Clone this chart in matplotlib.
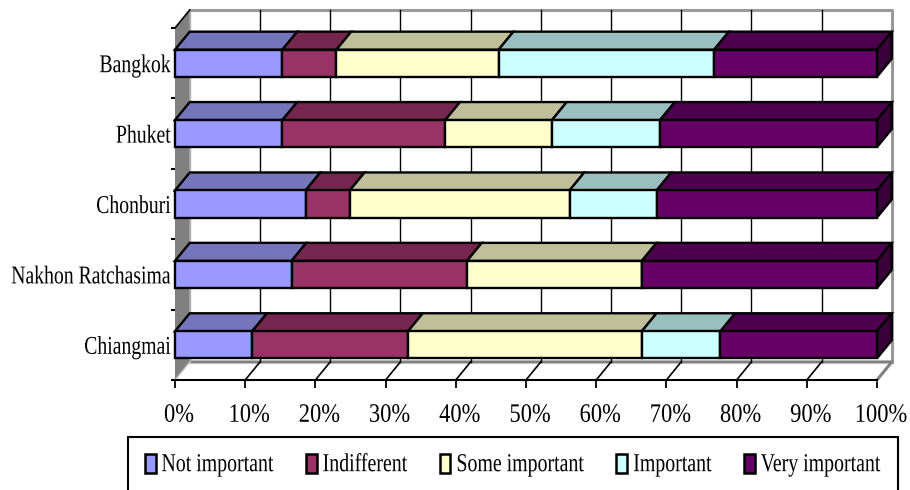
import matplotlib
matplotlib.use('Agg')
import matplotlib.pyplot as plt
from matplotlib.patches import Polygon, Patch
from matplotlib.patheffects import AbstractPathEffect
from matplotlib.transforms import Affine2D
import numpy as np

plt.rcParams['font.family'] = ['Liberation Serif', 'DejaVu Serif']

cities = ['Chiangmai', 'Nakhon Ratchasima', 'Chonburi', 'Phuket', 'Bangkok']
not_important = [11.0, 16.6, 18.6, 15.3, 15.3]
indifferent = [22.2, 25.0, 6.3, 23.2, 7.7]
some_important = [33.3, 24.9, 31.3, 15.2, 23.1]
important = [11.2, 0.0, 12.4, 15.4, 30.7]
very_important = [22.3, 33.5, 31.4, 30.9, 23.2]

names = ['Not important', 'Indifferent', 'Some important', 'Important', 'Very important']
front_cols = ['#9999ff', '#993366', '#ffffcc', '#ccffff', '#660066']
top_cols = ['#7575bb', '#75264e', '#bfbf99', '#9abfbf', '#4d004d']
side_col = '#39003a'
wall_col = '#808080'

# depth of the fake 3d box, in data units
dx = 2.1
dy = 0.256
bar_h = 0.384


# the text in the chart is narrow and tall, stretch the glyphs about the baseline
class Stretch(AbstractPathEffect):
    def __init__(self, sy, tx=0, ty=0):
        super().__init__()
        self.sy = sy
        self.tx = tx
        self.ty = ty

    def draw_path(self, renderer, gc, tpath, affine, rgbFace=None):
        t = Affine2D().scale(1, self.sy) + affine + Affine2D().translate(self.tx, self.ty)
        renderer.draw_path(gc, tpath, t, rgbFace)


W, H = 910, 490
fig = plt.figure(figsize=(W / 100, H / 100), dpi=100)
ax = fig.add_axes([175 / W, (H - 380) / H, 702 / W, 352 / H])
ax.set_xlim(0, 100)
ax.set_ylim(0, 5)
ax.patch.set_visible(False)

# walls and floor
ax.add_patch(Polygon([(0, 0), (dx, dy), (dx, 5 + dy), (0, 5)], closed=True, fc=wall_col, ec='none', clip_on=False, zorder=1))
ax.add_patch(Polygon([(0, 0), (dx, dy), (100 + dx, dy), (100, 0)], closed=True, fc='white', ec='none', clip_on=False, zorder=1))
ax.plot([dx, 100 + dx, 100 + dx], [5 + dy, 5 + dy, dy], color='#999999', lw=2.2, clip_on=False, zorder=2, solid_capstyle='projecting')
ax.plot([dx, 100 + dx, 100], [dy, dy, 0], color='#808080', lw=2.2, clip_on=False, zorder=2)
ax.plot([0, dx], [0, dy], color='#c0c0c0', lw=1, clip_on=False, zorder=2)
ax.plot([dx, dx], [dy, 5 + dy], color='#b0b0b0', lw=1, clip_on=False, zorder=2)
ax.plot([0, dx], [5, 5 + dy], color='black', lw=1.2, clip_on=False, zorder=2)

# grid on the back wall and the floor
for v in range(10, 100, 10):
    ax.plot([v + dx, v + dx], [dy, 5 + dy], color='black', lw=1.0, clip_on=False, zorder=2)
    ax.plot([v, v + dx], [0, dy], color='black', lw=1.2, clip_on=False, zorder=2)

series = [not_important, indifferent, some_important, important, very_important]
left = np.zeros(len(cities))
y = np.arange(len(cities)) + 0.5
for s, vals in enumerate(series):
    vals = np.array(vals)
    ax.barh(y, vals, height=bar_h, left=left, color=front_cols[s], edgecolor='black', lw=1.7, zorder=5, clip_on=False)
    for i in range(len(cities)):
        if vals[i] == 0:
            continue
        l = left[i]
        r = l + vals[i]
        t = y[i] + bar_h / 2
        ax.add_patch(Polygon([(l, t), (l + dx, t + dy), (r + dx, t + dy), (r, t)], closed=True,
                             fc=top_cols[s], ec='black', lw=1.7, clip_on=False, zorder=4, joinstyle='miter'))
    left = left + vals

# right end of every bar
for yy in y:
    b = yy - bar_h / 2
    t = yy + bar_h / 2
    ax.add_patch(Polygon([(100, b), (100 + dx, b + dy), (100 + dx, t + dy), (100, t)], closed=True,
                         fc=side_col, ec='black', lw=1.7, clip_on=False, zorder=4))

for sp in ['top', 'right', 'left']:
    ax.spines[sp].set_visible(False)
ax.spines['bottom'].set_linewidth(1.5)
ax.spines['bottom'].set_zorder(6)

ax.set_xticks(np.arange(0, 101, 10))
ax.set_xticklabels([str(v) + '%' for v in range(0, 101, 10)], fontsize=16.2)
ax.tick_params(axis='x', length=6, width=1.3, pad=14)
ax.set_yticks(np.arange(0, 6), minor=True)
ax.set_yticks(y)
ax.set_yticklabels(cities, fontsize=14.2)
ax.tick_params(axis='y', which='major', length=0, pad=3)
ax.tick_params(axis='y', which='minor', length=3, width=1.5)

for lab in ax.get_xticklabels():
    lab.set_path_effects([Stretch(1.18, tx=4)])
for lab in ax.get_yticklabels():
    lab.set_path_effects([Stretch(1.3, ty=-2)])

handles = [Patch(fc=front_cols[i], ec='black', lw=1.8) for i in range(5)]
leg = fig.legend(handles, names, ncol=5, loc='upper left', bbox_to_anchor=(127.7 / W, 1 - 437 / H),
                 borderaxespad=0, fontsize=14.3, fancybox=False, framealpha=1, edgecolor='black',
                 handlelength=0.55, handleheight=1.1, handletextpad=0.3, columnspacing=1.62,
                 borderpad=0.85)
leg.get_frame().set_linewidth(1.5)
for lab in leg.get_texts():
    lab.set_path_effects([Stretch(1.3, ty=-1)])

fig.savefig('out.png', dpi=100)
